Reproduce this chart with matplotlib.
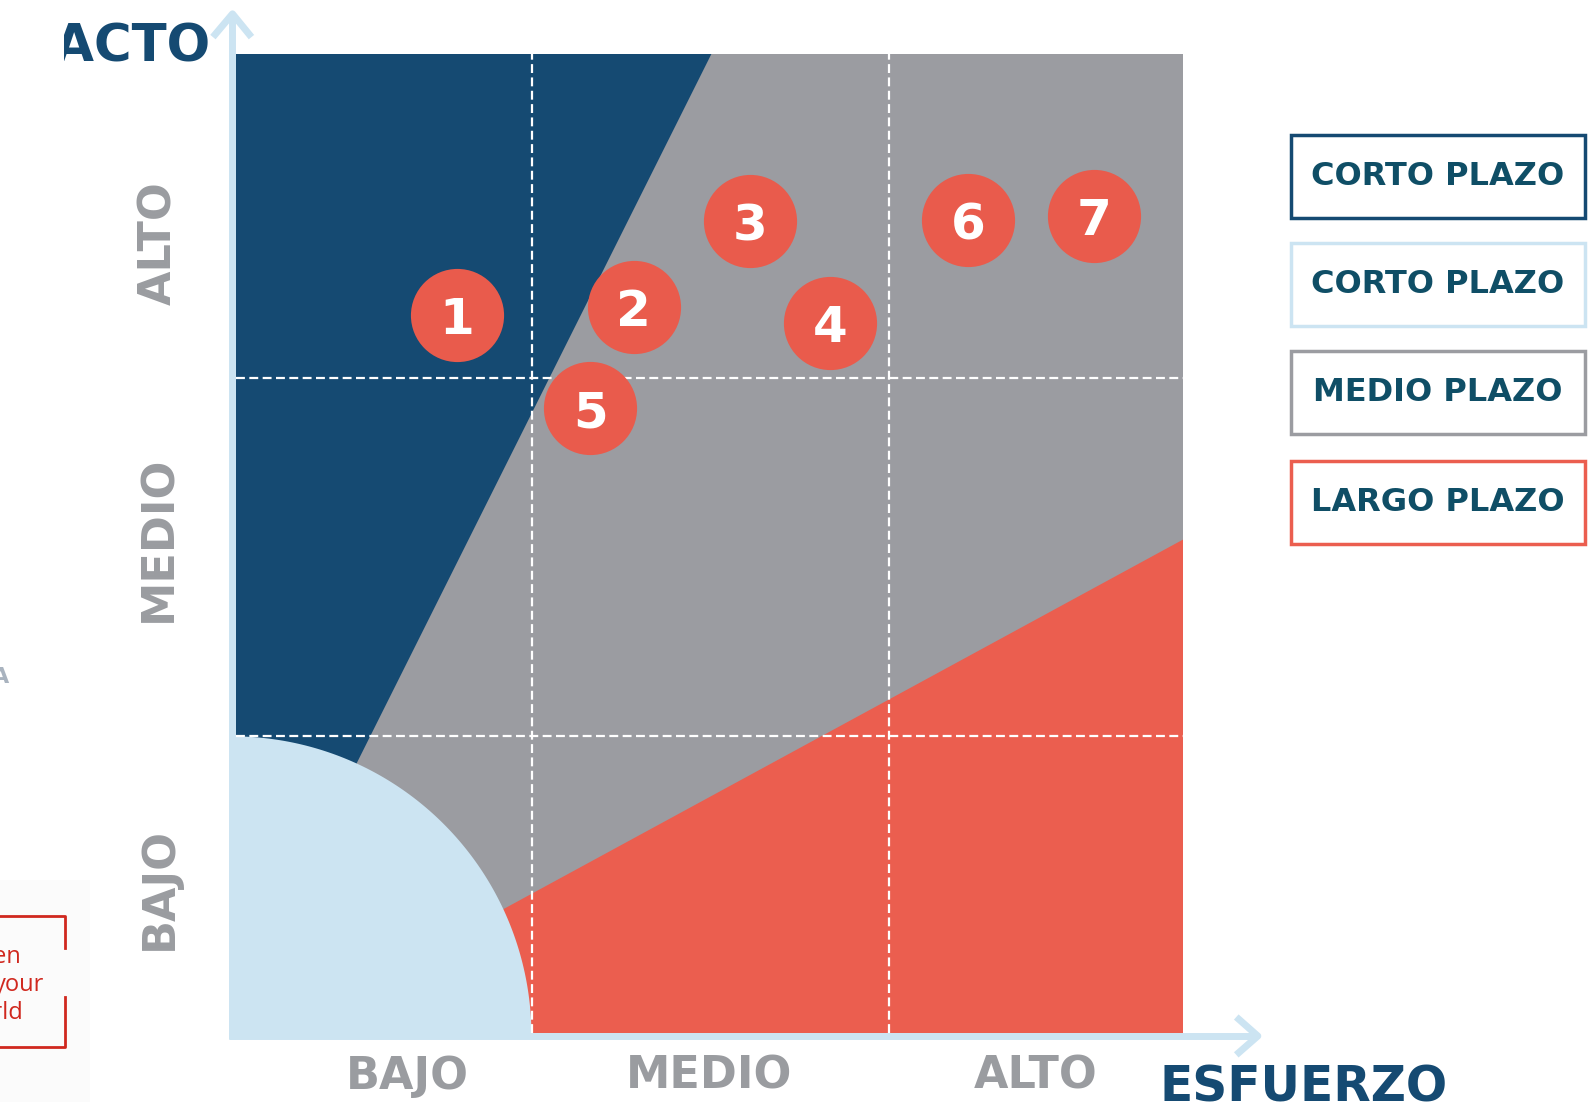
import numpy as np
import matplotlib
matplotlib.use("Agg")
import matplotlib.pyplot as plt
from matplotlib.patches import Rectangle
from matplotlib.transforms import Bbox, TransformedBbox

W, H = 1588, 1107

# effort / impact plane, 0-100 on both axes
grid_effort = [31.3, 69.0]
grid_impact = [30.3, 66.9]

# strategy zones
navy_zone_e = [0, 50.2, -1.5, 0]
navy_zone_i = [100, 100, 0, 0]
red_zone_e = [0, 100, 100]
red_zone_i = [-2.2, 50.4, -2.2]
quick_center = (-0.4, -0.3)
quick_radius = (31.6, 30.6)

# initiatives
point_labels = ["1", "2", "3", "4", "5", "6", "7"]
point_effort = [23.3, 42.0, 54.3, 62.7, 37.4, 77.3, 90.6]
point_impact = [73.3, 74.2, 82.9, 72.5, 63.8, 83.0, 83.5]

level_labels = ["BAJO", "MEDIO", "ALTO"]
legend_labels = ["CORTO PLAZO", "CORTO PLAZO", "MEDIO PLAZO", "LARGO PLAZO"]

NAVY = "#154a72"
GRAY = "#9b9ca1"
RED = "#eb5e4f"
LIGHT = "#cce4f2"
LABEL_GRAY = "#9a9ca0"
TEAL = "#0f4e66"


def fx(x):
    return x / W


def fy(y):
    return 1 - y / H


fig = plt.figure(figsize=(W / 100, H / 100), dpi=100)
fig.patch.set_facecolor("white")

ax = fig.add_axes([fx(236), fy(1033), 947 / W, 979 / H])
ax.set_xlim(0, 100)
ax.set_ylim(0, 100)
ax.axis("off")

ax.add_patch(Rectangle((0, 0), 100, 100, color=GRAY, zorder=1))
ax.fill(navy_zone_e, navy_zone_i, color=NAVY, zorder=2, lw=0)
ax.fill(red_zone_e, red_zone_i, color=RED, zorder=2, lw=0)

t = np.linspace(0, np.pi / 2, 200)
qx = [quick_center[0]] + list(quick_center[0] + quick_radius[0] * np.cos(t))
qy = [quick_center[1]] + list(quick_center[1] + quick_radius[1] * np.sin(t))
ax.fill(qx, qy, color=LIGHT, zorder=3, lw=0, clip_on=False)

for g in grid_effort:
    ax.plot([g, g], [0, 100], color="white", lw=1.6, ls=(0, (4, 2)), zorder=4)
for g in grid_impact:
    ax.plot([0, 100], [g, g], color="white", lw=1.6, ls=(0, (4, 2)), zorder=4)

# light blue axes with chevron arrows
ax.plot([-0.37, -0.37], [-0.6, 104.0], color=LIGHT, lw=5, zorder=5,
        clip_on=False, solid_capstyle="butt")
ax.plot([-2.2, -0.37, 1.4], [102.0, 104.1, 102.0], color=LIGHT, lw=5,
        zorder=5, clip_on=False)
ax.plot([-0.7, 107.6], [-0.31, -0.31], color=LIGHT, lw=5, zorder=5,
        clip_on=False, solid_capstyle="butt")
ax.plot([105.9, 107.9, 105.9], [1.4, -0.31, -2.0], color=LIGHT, lw=5,
        zorder=5, clip_on=False)

ax.scatter(point_effort, point_impact, s=4500, color="#e95b4c", lw=0,
           zorder=6, clip_on=False)
for lab, e, i in zip(point_labels, point_effort, point_impact):
    ax.text(e, i, lab, color="white", fontsize=36, fontweight="bold",
            ha="center", va="center_baseline", zorder=7)

# axis level labels
for lab, y in zip(level_labels, [888, 539, 243]):
    fig.text(fx(159), fy(y), lab, rotation=90, ha="center", va="center",
             fontsize=32, fontweight="bold", color=LABEL_GRAY)
for lab, x in zip(level_labels, [407, 709, 1036]):
    fig.text(fx(x), fy(1076), lab, ha="center", va="center",
             fontsize=32, fontweight="bold", color=LABEL_GRAY)

fig.text(fx(1160), fy(1101), "ESFUERZO", ha="left", va="baseline",
         fontsize=35, fontweight="bold", color=NAVY)
imp = fig.text(fx(210), fy(61), "IMPACTO", ha="right", va="baseline",
               fontsize=37, fontweight="bold", color=NAVY)
imp.set_clip_box(TransformedBbox(Bbox([[fx(64), 0], [1, 1]]), fig.transFigure))
imp.set_clip_on(True)

# legend boxes
legend_edges = [NAVY, LIGHT, GRAY, RED]
legend_tops = [135, 243, 351, 461]
for lab, col, top in zip(legend_labels, legend_edges, legend_tops):
    fig.add_artist(Rectangle((fx(1291), fy(top + 83)), 294 / W, 83 / H,
                             transform=fig.transFigure, fill=False,
                             edgecolor=col, lw=2.5))
    fig.text(fx(1438), fy(top + 41.5), lab, ha="center", va="center",
             fontsize=23, fontweight="bold", color=TEAL)

# cropped neighbouring page elements at the left edge
fig.add_artist(Rectangle((0, fy(1102)), 90 / W, 222 / H,
                         transform=fig.transFigure, color="#fbfbfb", lw=0,
                         zorder=0))
fig.text(fx(9), fy(683), "A", ha="right", va="baseline", fontsize=16,
         fontweight="bold", color="#a9b3bf")
br = "#d0281e"
fig.add_artist(plt.Line2D([0, fx(65), fx(65)], [fy(916), fy(916), fy(948)],
                          transform=fig.transFigure, color=br, lw=2))
fig.add_artist(plt.Line2D([fx(65), fx(65), 0], [fy(997), fy(1047), fy(1047)],
                          transform=fig.transFigure, color=br, lw=2))
for word, x_end, y in zip(["Open", "your", "world"], [21, 44, 23], [963, 991, 1019]):
    fig.text(fx(x_end), fy(y), word, ha="right", va="baseline",
             fontsize=17, color=br, family="Open Sans")

fig.savefig("out.png", dpi=100)
